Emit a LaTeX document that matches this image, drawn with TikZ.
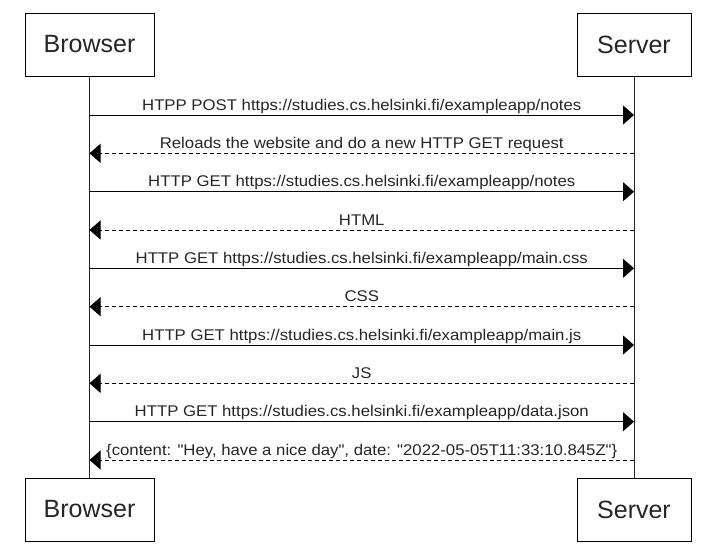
\documentclass[tikz,border=0pt]{standalone}
\usepackage{fontspec}
\setmainfont{Liberation Sans}
\newfontfamily\lblfont[FakeStretch=1.08]{Liberation Sans}
\usetikzlibrary{arrows.meta}
\newcommand{\qq}{\char"0022\relax}
\begin{document}
\begin{tikzpicture}[x=1pt,y=-1pt,
  actor/.style={draw=black,line width=0.9pt,fill=white,inner sep=0pt,
    font=\fontsize{25}{30}\selectfont,text=black!85},
  life/.style={draw=black!85,line width=0.9pt},
  msg/.style={draw=black,line width=0.9pt,-{Triangle[length=11pt,width=19pt]}},
  reply/.style={msg,dash pattern=on 4pt off 3pt},
  lbl/.style={pos=0.5,anchor=base,yshift=5pt,inner sep=0pt,
    font=\lblfont\fontsize{15.5}{18}\selectfont,text=black!85}]
\path[use as bounding box,fill=white] (0,0) rectangle (715,552);
% actors
\node[actor,minimum width=129pt,minimum height=63pt] (bt) at (89.5,44.5) {Browser};
\node[actor,minimum width=114pt,minimum height=63pt] (st) at (634,44.5) {Server};
\node[actor,minimum width=129pt,minimum height=63pt] (bb) at (89.5,509.5) {Browser};
\node[actor,minimum width=114pt,minimum height=63pt] (sb) at (634,509.5) {Server};
% lifelines
\draw[life] (bt.south) -- (bb.north);
\draw[life] (st.south) -- (sb.north);
% message anchors
\foreach \i/\y in {1/115,2/153.3,3/191.7,4/230,5/268.3,6/306.7,7/345,8/383.3,9/421.7,10/460}{
  \coordinate (b\i) at (89.5,\y);
  \coordinate (s\i) at (634,\y);
}
\draw[msg] (b1) -- node[lbl]{HTPP POST https://studies.cs.helsinki.fi/exampleapp/notes} (s1);
\draw[reply] (s2) -- node[lbl]{Reloads the website and do a new HTTP GET request} (b2);
\draw[msg] (b3) -- node[lbl]{HTTP GET https://studies.cs.helsinki.fi/exampleapp/notes} (s3);
\draw[reply] (s4) -- node[lbl]{HTML} (b4);
\draw[msg] (b5) -- node[lbl]{HTTP GET https://studies.cs.helsinki.fi/exampleapp/main.css} (s5);
\draw[reply] (s6) -- node[lbl]{CSS} (b6);
\draw[msg] (b7) -- node[lbl]{HTTP GET https://studies.cs.helsinki.fi/exampleapp/main.js} (s7);
\draw[reply] (s8) -- node[lbl]{JS} (b8);
\draw[msg] (b9) -- node[lbl]{HTTP GET https://studies.cs.helsinki.fi/exampleapp/data.json} (s9);
\draw[reply] (s10) -- node[lbl]{\{content: \qq Hey, have a nice day\qq, date: \qq 2022-05-05T11:33:10.845Z\qq\}} (b10);
\end{tikzpicture}
\end{document}
